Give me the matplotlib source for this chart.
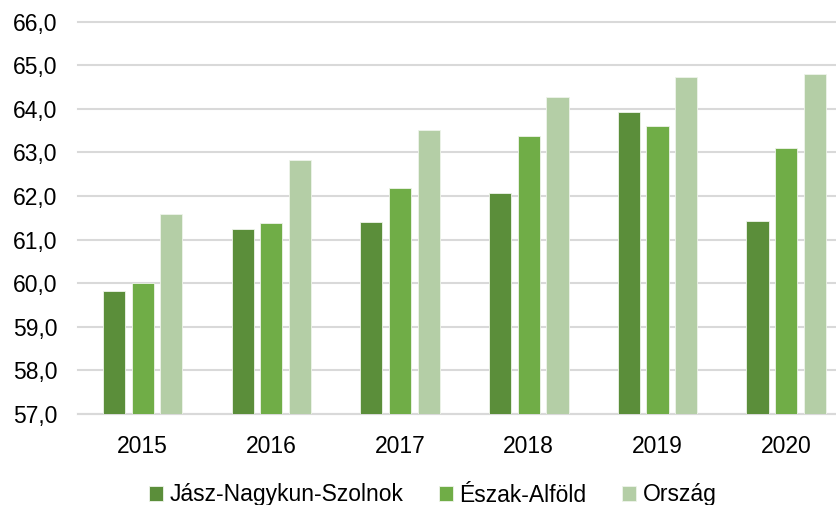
import numpy as np
import matplotlib
matplotlib.use('Agg')
import matplotlib.pyplot as plt
from matplotlib.ticker import FuncFormatter, MultipleLocator

years = ['2015', '2016', '2017', '2018', '2019', '2020']
jnsz = [59.82, 61.24, 61.40, 62.07, 63.92, 61.43]
eszak_alfold = [60.00, 61.38, 62.18, 63.38, 63.61, 63.10]
orszag = [61.58, 62.82, 63.52, 64.28, 64.74, 64.80]
series_names = ['Jász-Nagykun-Szolnok', 'Észak-Alföld', 'Ország']
colors = ['#5B8E3A', '#70AD47', '#B4CEA6']

plt.rcParams['font.family'] = ['Liberation Sans', 'DejaVu Sans']

W, H = 837, 505
fig = plt.figure(figsize=(W / 100, H / 100), dpi=100)
ax = fig.add_axes([78.3 / W, (H - 414) / H, (W - 78.3) / W, (414 - 21.7) / H])

x = np.arange(len(years))
pitch = 0.223
width = 0.173
for i, (vals, name, col) in enumerate(zip([jnsz, eszak_alfold, orszag], series_names, colors)):
  ax.bar(x + (i - 1) * pitch, np.array(vals) - 57, bottom=57, width=width,
         color=col, edgecolor='#EEF4EA', linewidth=0.6, label=name, zorder=3)

ax.set_ylim(57, 66)
ax.set_xlim(-0.5, 5.395)
ax.yaxis.set_major_locator(MultipleLocator(1))
ax.yaxis.set_major_formatter(FuncFormatter(lambda v, p: f"{v:.1f}".replace('.', ',')))
ax.set_xticks(x)
ax.set_xticklabels(years)
ax.tick_params(axis='both', length=0, labelsize=16.5, colors='#000000')
ax.tick_params(axis='y', pad=15)
ax.tick_params(axis='x', pad=15)
ax.grid(axis='y', color='#D9D9D9', linewidth=1.5, zorder=0)
ax.set_axisbelow(True)
for s in ['top', 'right', 'left']:
  ax.spines[s].set_visible(False)
ax.spines['bottom'].set_color('#D9D9D9')
ax.spines['bottom'].set_linewidth(1.5)
# keep the top gridline visible
for gl in ax.get_ygridlines():
  gl.set_clip_on(False)

fig.legend(loc='center', bbox_to_anchor=(0.517, 1 - 495 / H), ncol=3, frameon=False,
           fontsize=16.5, handlelength=0.6, handleheight=0.6, handletextpad=0.3,
           columnspacing=1.55, borderaxespad=0)

fig.savefig('out.png', dpi=100)
